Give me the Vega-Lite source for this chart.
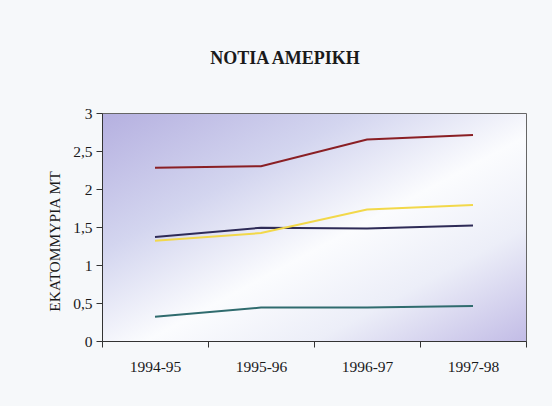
{
  "$schema": "https://vega.github.io/schema/vega-lite/v6.json",
  "width": 424,
  "height": 228,
  "autosize": {"type": "none"},
  "padding": {"left": 102, "top": 113, "right": 26, "bottom": 65},
  "background": "#f6f8fa",
  "title": {
    "text": "ΝΟΤΙΑ ΑΜΕΡΙΚΗ",
    "font": "Liberation Serif",
    "fontSize": 18,
    "fontWeight": "bold",
    "color": "#1a1a1a",
    "anchor": "middle",
    "dx": -29,
    "offset": 38
  },
  "config": {
    "view": {
      "stroke": "#666666",
      "strokeWidth": 1,
      "fill": {
        "gradient": "linear",
        "x1": 0, "y1": 0, "x2": 1, "y2": 1,
        "stops": [
          {"offset": 0, "color": "#b5b0e0"},
          {"offset": 0.3, "color": "#d3d5ef"},
          {"offset": 0.55, "color": "#fbfcfe"},
          {"offset": 0.75, "color": "#eceef8"},
          {"offset": 1, "color": "#c2bce6"}
        ]
      }
    },
    "axis": {
      "labelFont": "Liberation Serif",
      "titleFont": "Liberation Serif",
      "labelFontSize": 15.5,
      "titleFontSize": 15.5,
      "labelColor": "#1a1a1a",
      "titleColor": "#1a1a1a",
      "domainColor": "#333333",
      "tickColor": "#333333",
      "grid": false
    }
  },
  "data": {
    "values": [
      {"year": "1994-95", "series": "A", "value": 2.28},
      {"year": "1995-96", "series": "A", "value": 2.30},
      {"year": "1996-97", "series": "A", "value": 2.65},
      {"year": "1997-98", "series": "A", "value": 2.71},
      {"year": "1994-95", "series": "B", "value": 1.37},
      {"year": "1995-96", "series": "B", "value": 1.49},
      {"year": "1996-97", "series": "B", "value": 1.48},
      {"year": "1997-98", "series": "B", "value": 1.52},
      {"year": "1994-95", "series": "C", "value": 1.32},
      {"year": "1995-96", "series": "C", "value": 1.42},
      {"year": "1996-97", "series": "C", "value": 1.73},
      {"year": "1997-98", "series": "C", "value": 1.79},
      {"year": "1994-95", "series": "D", "value": 0.32},
      {"year": "1995-96", "series": "D", "value": 0.44},
      {"year": "1996-97", "series": "D", "value": 0.44},
      {"year": "1997-98", "series": "D", "value": 0.46}
    ]
  },
  "mark": {"type": "line", "strokeWidth": 2},
  "encoding": {
    "x": {
      "field": "year",
      "type": "ordinal",
      "scale": {"type": "band", "paddingInner": 0, "paddingOuter": 0},
      "axis": {
        "title": null,
        "labelAngle": 0,
        "tickBand": "extent",
        "tickSize": 6,
        "labelPadding": 12
      }
    },
    "y": {
      "field": "value",
      "type": "quantitative",
      "scale": {"domain": [0, 3]},
      "axis": {
        "title": "ΕΚΑΤΟΜΜΥΡΙΑ ΜΤ",
        "values": [0, 0.5, 1, 1.5, 2, 2.5, 3],
        "labelExpr": "replace(format(datum.value, ''), '.', ',')",
        "tickSize": 6,
        "labelPadding": 4,
        "titlePadding": 10,
        "titleY": 128,
        "titleFontWeight": "normal"
      }
    },
    "color": {
      "field": "series",
      "type": "nominal",
      "scale": {
        "domain": ["A", "B", "C", "D"],
        "range": ["#8a1f24", "#2e2b57", "#f2d84a", "#2f6b6e"]
      },
      "legend": null
    }
  }
}
